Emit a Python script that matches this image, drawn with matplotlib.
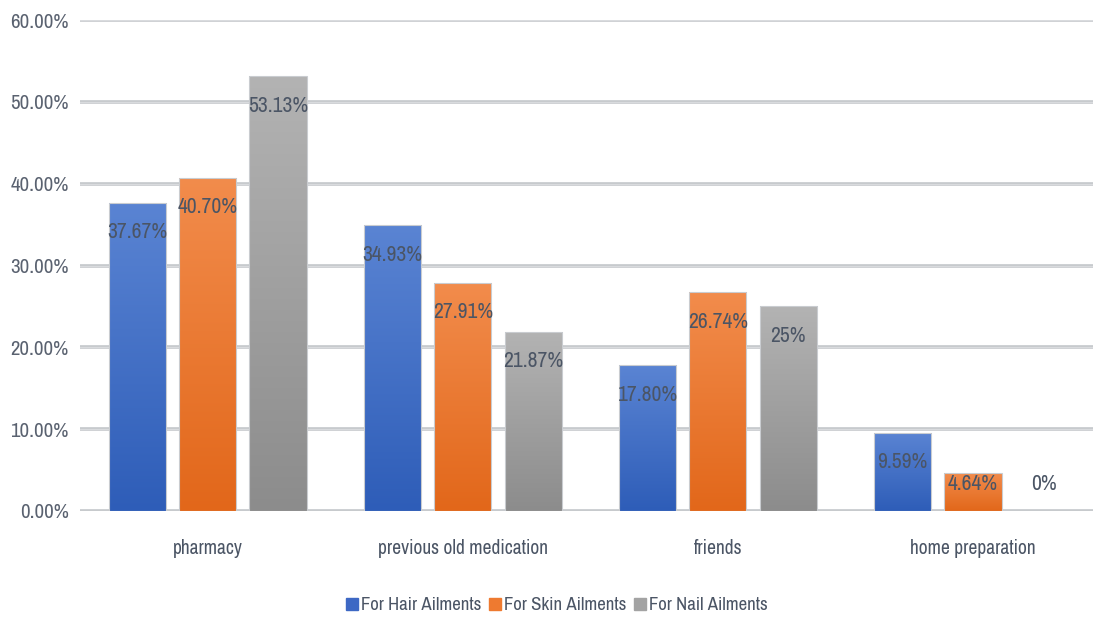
import numpy as np
import matplotlib
matplotlib.use('Agg')
from matplotlib import pyplot as plt
from matplotlib import font_manager
from matplotlib.colors import LinearSegmentedColormap
from matplotlib.lines import Line2D

# narrow grotesque font, first one that is installed
have = set(f.name for f in font_manager.fontManager.ttflist)
fam = [f for f in ['Liberation Sans Narrow', 'Arial Narrow', 'Archivo Narrow', 'Roboto Condensed'] if f in have]
plt.rcParams['font.family'] = fam[:1] + ['DejaVu Sans']

categories = ['pharmacy', 'previous old medication', 'friends', 'home preparation']
series = ['For Hair Ailments', 'For Skin Ailments', 'For Nail Ailments']
hair = [37.67, 34.93, 17.80, 9.59]
skin = [40.70, 27.91, 26.74, 4.64]
nail = [53.13, 21.87, 25.0, 0.0]
labels = [['37.67%', '34.93%', '17.80%', '9.59%'],
          ['40.70%', '27.91%', '26.74%', '4.64%'],
          ['53.13%', '21.87%', '25%', '0%']]
yticks = [0, 10, 20, 30, 40, 50, 60]

# top / bottom colours of each series gradient
grads = [('#5a84d3', '#2e5db8'), ('#f28c4c', '#e2671a'), ('#b3b3b3', '#8c8c8c')]
legend_cols = ['#3d68c4', '#ee7a30', '#a3a3a3']

fig = plt.figure(figsize=(10.93, 6.21), dpi=100)
ax = fig.add_axes([80 / 1093, 110 / 621, 1013 / 1093, 491 / 621])

x = np.arange(len(categories))
width = 0.224
pitch = 0.276
text_col = '#4b5565'

for i, vals in enumerate([hair, skin, nail]):
    cmap = LinearSegmentedColormap.from_list('g%d' % i, [grads[i][1], grads[i][0]])
    pos = x + (i - 1) * pitch
    bars = ax.bar(pos, vals, width, color='none', edgecolor='#c9ccd0', linewidth=0.8, zorder=3)
    for b, v in zip(bars, vals):
        if v <= 0:
            continue
        x0 = b.get_x()
        img = ax.imshow(np.linspace(0, 1, 256).reshape(-1, 1), cmap=cmap, origin='lower',
                        extent=[x0, x0 + width, 0, v], aspect='auto', zorder=2)
        img.set_clip_path(b)
    for p, v, lab in zip(pos, vals, labels[i]):
        ax.text(p, max(v - 3.6, 3.3), lab, ha='center', va='center',
                fontsize=15.5, color=text_col, zorder=4)

for t in yticks:
    ax.axhline(t, color='#c3c6ca', linewidth=2.6, zorder=1)
    ax.axhline(t, color='#d9dbde', linewidth=1.0, zorder=1)

ax.set_xlim(-0.5, 3.47)
ax.set_ylim(0, 60)
ax.set_yticks(yticks)
ax.set_yticklabels(['%.2f%%' % t for t in yticks], fontsize=15, color='#5a6270')
ax.set_xticks(x)
ax.set_xticklabels(categories, fontsize=14, color='#4b5565')
ax.tick_params(axis='both', length=0)
ax.tick_params(axis='y', pad=8)
ax.tick_params(axis='x', pad=20)
for s in ax.spines.values():
    s.set_visible(False)

handles = [Line2D([], [], marker='s', linestyle='none', markersize=9,
                  markerfacecolor=c, markeredgecolor=c) for c in legend_cols]
fig.legend(handles, series, loc='center', bbox_to_anchor=(556 / 1093, 1 - 605 / 621),
           ncol=3, frameon=False, fontsize=13.5, handletextpad=0.1, columnspacing=0.3,
           handlelength=0.8, labelcolor='#4b5565')

fig.savefig('out.png', dpi=100)
